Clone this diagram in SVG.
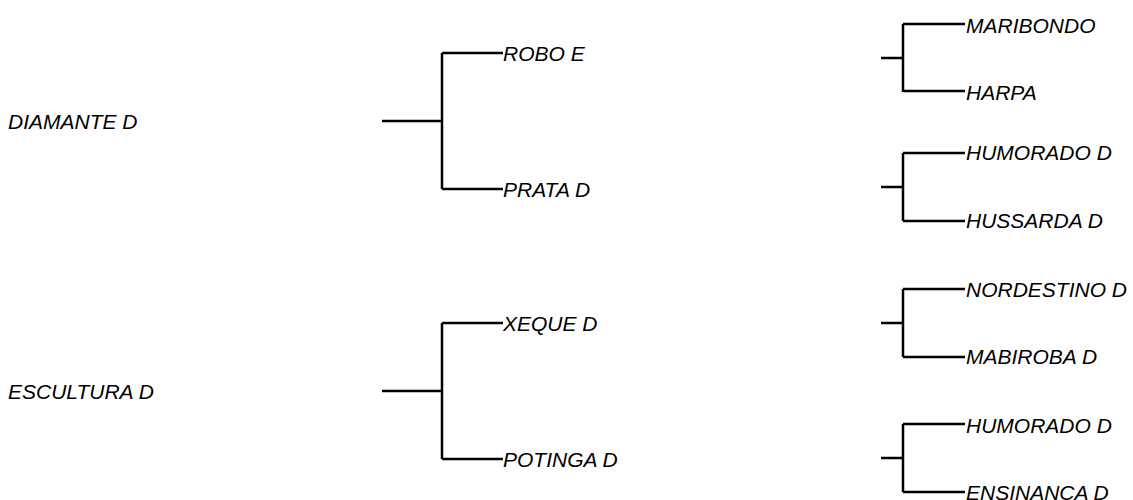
<svg xmlns="http://www.w3.org/2000/svg" width="1133" height="500" viewBox="0 0 1133 500">
<style>
text{font-family:"Liberation Sans",Arial,sans-serif;font-style:italic;font-size:21px;fill:#000;dominant-baseline:central}
.c{fill:none;stroke:#000;stroke-width:2.5}
</style>
<rect width="1133" height="500" fill="#fff"/>
<g id="connectors">
<path class="c" d="M382 121H442M442 53V189M442 53H503M442 189H503"/>
<path class="c" d="M382 391H442M442 323V459M442 323H503M442 459H503"/>
<path class="c" d="M881 58H903M903 24V92M903 24H965M903 91H965"/>
<path class="c" d="M881 187H903M903 153V221M903 153H965M903 221H965"/>
<path class="c" d="M881 323H903M903 289V357M903 289H965M903 357H965"/>
<path class="c" d="M881 458H903M903 424V492M903 424H965M903 492H965"/>
</g>
<g id="n-diamante"><text x="8" y="121">DIAMANTE D</text></g>
<g id="n-escultura"><text x="8" y="391">ESCULTURA D</text></g>
<g id="n-robo"><text x="503" y="53">ROBO E</text></g>
<g id="n-prata"><text x="503" y="189">PRATA D</text></g>
<g id="n-xeque"><text x="503" y="323">XEQUE D</text></g>
<g id="n-potinga"><text x="503" y="459">POTINGA D</text></g>
<g id="n-maribondo"><text x="966" y="25">MARIBONDO</text></g>
<g id="n-harpa"><text x="966" y="92">HARPA</text></g>
<g id="n-humorado1"><text x="966" y="152">HUMORADO D</text></g>
<g id="n-hussarda"><text x="966" y="220">HUSSARDA D</text></g>
<g id="n-nordestino"><text x="966" y="289">NORDESTINO D</text></g>
<g id="n-mabiroba"><text x="966" y="356">MABIROBA D</text></g>
<g id="n-humorado2"><text x="966" y="425">HUMORADO D</text></g>
<g id="n-ensinanca"><text x="966" y="492">ENSINANCA D</text></g>
</svg>
